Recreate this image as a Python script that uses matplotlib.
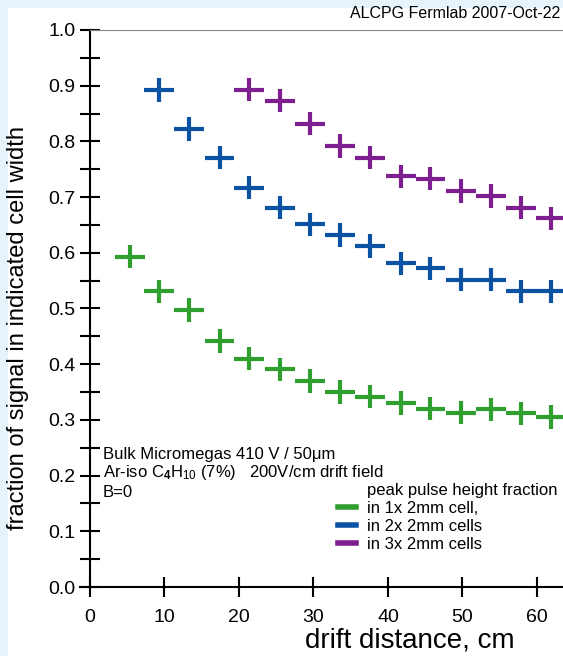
import numpy as np
import matplotlib
matplotlib.use('Agg')
import matplotlib.pyplot as plt
from matplotlib.lines import Line2D
from matplotlib.patches import Rectangle
from matplotlib.ticker import MultipleLocator, FormatStrFormatter

plt.rcParams['font.family'] = ['Liberation Sans', 'DejaVu Sans']
plt.rcParams['mathtext.fontset'] = 'custom'
plt.rcParams['mathtext.rm'] = 'Liberation Sans'
plt.rcParams['mathtext.it'] = 'Liberation Sans:italic'
plt.rcParams['mathtext.bf'] = 'Liberation Sans:bold'

# drift distance (cm) of each measurement
drift = [5.4, 9.3, 13.3, 17.4, 21.4, 25.5, 29.5, 33.6, 37.6, 41.7, 45.7, 49.8, 53.8, 57.9, 61.9]
# fraction of peak pulse height in 1, 2, 3 cells
frac_1cell = [0.593, 0.531, 0.497, 0.442, 0.410, 0.391, 0.370, 0.350, 0.342, 0.330, 0.320, 0.313, 0.319, 0.312, 0.305]
frac_2cell = [0.892, 0.822, 0.771, 0.717, 0.681, 0.651, 0.632, 0.612, 0.581, 0.572, 0.552, 0.552, 0.531, 0.531]
frac_3cell = [0.893, 0.873, 0.832, 0.792, 0.771, 0.737, 0.733, 0.711, 0.702, 0.681, 0.662]

labels = ['in 1x 2mm cell,', 'in 2x 2mm cells', 'in 3x 2mm cells']
colors = ['#2f9f2f', '#0b52a3', '#7d1f8e']

fig = plt.figure(figsize=(5.63, 6.56), dpi=100, facecolor='#e6f3fb')
fig.patches.append(Rectangle((8/563, 0), 1, 1 - 8/656, transform=fig.transFigure,
                             facecolor='white', edgecolor='none', zorder=-1))

ax = fig.add_axes([80/563, 1 - 587/656, 483/563, 557/656])
ax.patch.set_visible(False)

series = [(drift, frac_1cell), (drift[1:], frac_2cell), (drift[4:], frac_3cell)]
for (xs, ys), c in zip(series, colors):
    ax.errorbar(xs, ys, xerr=2.0, yerr=0.021, fmt='none', ecolor=c,
                elinewidth=3, capsize=0)

ax.set_xlim(-1.34, 63.5)
ax.set_ylim(0, 1.0)

ax.spines['right'].set_visible(False)
ax.spines['top'].set_color('#888888')
ax.spines['top'].set_linewidth(0.8)
ax.spines['top'].set_bounds(0, 63.5)
ax.spines['left'].set_position(('data', 0))
ax.spines['left'].set_linewidth(1.5)
ax.spines['bottom'].set_linewidth(1.5)

ax.xaxis.set_major_locator(MultipleLocator(10))
ax.yaxis.set_major_locator(MultipleLocator(0.1))
ax.yaxis.set_minor_locator(MultipleLocator(0.05))
ax.yaxis.set_major_formatter(FormatStrFormatter('%.1f'))
ax.tick_params(axis='both', which='both', direction='inout', length=14, width=1.5,
               top=False, right=False, labelsize=14)
ax.tick_params(axis='y', pad=3.5)
ax.tick_params(axis='x', pad=9)

ax.set_ylabel('fraction of signal in indicated cell width', fontsize=17)
ax.yaxis.set_label_coords(-0.105, 0.465)
ax.set_xlabel('drift distance, cm', fontsize=20, va='top')
ax.xaxis.set_label_coords(0.683, -0.072)

fig.text(560/563, 1 - 14/656, 'ALCPG Fermlab 2007-Oct-22', ha='right', va='center', fontsize=11.5)

ax.text(1.75, 0.237, 'Bulk Micromegas 410 V / 50\u03bcm', fontsize=12, va='center')
ax.text(1.75, 0.205, 'Ar-iso C$_\\mathbf{4}$H$_{10}$ (7%)   200V/cm drift field', fontsize=12, va='center')
ax.text(1.75, 0.169, 'B=0', fontsize=12, va='center')

handles = [Line2D([], [], linestyle='none')]
handles += [Line2D([], [], color=c, linewidth=4) for c in colors]
ax.legend(handles, ['peak pulse height fraction'] + labels, loc='upper left',
          bbox_to_anchor=(338/563, 1 - 483/656), bbox_transform=fig.transFigure,
          frameon=False, fontsize=12, handlelength=1.05, handletextpad=0.7,
          labelspacing=0.18, borderpad=0, borderaxespad=0)

fig.savefig('out.png', dpi=100, facecolor=fig.get_facecolor())
